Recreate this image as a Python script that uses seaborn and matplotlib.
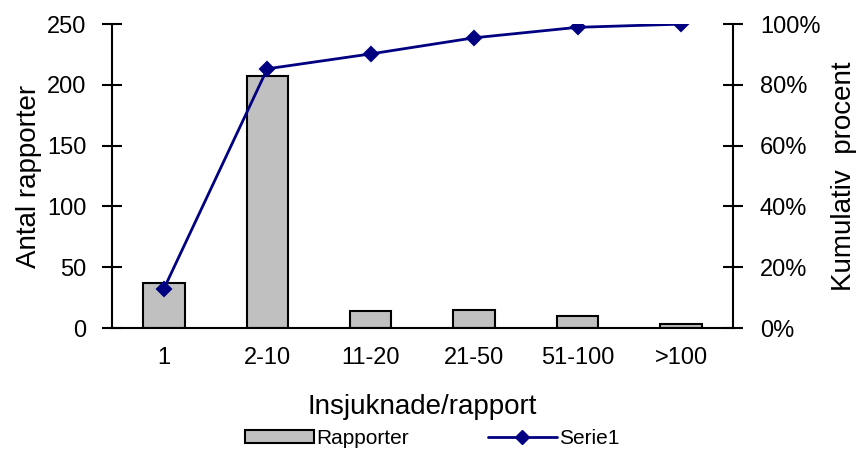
import matplotlib
matplotlib.use("Agg")
import matplotlib.pyplot as plt
import seaborn as sns
import numpy as np
import pandas as pd
from matplotlib.patches import Patch
from matplotlib.lines import Line2D
from matplotlib.ticker import FuncFormatter

categories = ["1", "2-10", "11-20", "21-50", "51-100", ">100"]
rapporter = [37, 207, 14, 15, 10, 3]
kumulativ = [12.9, 85.3, 90.2, 95.5, 98.95, 100.0]

sns.set_style("white")
plt.rcParams["font.family"] = ["Liberation Sans", "DejaVu Sans"]
plt.rcParams["text.color"] = "black"
plt.rcParams["axes.labelcolor"] = "black"
plt.rcParams["xtick.color"] = "black"
plt.rcParams["ytick.color"] = "black"

fig = plt.figure(figsize=(8.56, 4.55), dpi=100)
ax = fig.add_axes([0.131, 0.279, 0.725, 0.668])

df = pd.DataFrame({"cat": categories, "val": rapporter, "cum": kumulativ})
sns.barplot(data=df, x="cat", y="val", ax=ax, color="#C0C0C0", width=0.4,
            edgecolor="black", linewidth=1.5, saturation=1)

ax.set_xlim(-0.5, len(categories) - 0.5)
ax.set_ylim(0, 250)
ax.set_yticks([0, 50, 100, 150, 200, 250])
ax.set_xticks(np.arange(len(categories)))
ax.set_xticklabels(categories)
ax.set_xticks(np.arange(-0.5, len(categories)), minor=True)
ax.tick_params(axis="x", which="major", length=0, labelsize=17, pad=14)
ax.tick_params(axis="x", which="minor", length=14, width=1.5, direction="inout")
ax.tick_params(axis="y", length=15, width=1.5, direction="inout", labelsize=17, pad=11)
ax.set_xlabel("Insjuknade/rapport", fontsize=20, labelpad=18)
ax.set_ylabel("Antal rapporter", fontsize=20, labelpad=4)
for s in ["left", "bottom"]:
    ax.spines[s].set_color("black")
    ax.spines[s].set_linewidth(1.5)
ax.spines["top"].set_visible(False)
ax.spines["right"].set_visible(False)

ax2 = ax.twinx()
sns.pointplot(data=df, x="cat", y="cum", ax=ax2, color="#000080", markers="D",
              linestyles="-", markersize=7, linewidth=2)
ax2.set_xlim(-0.5, len(categories) - 0.5)
ax2.set_ylim(0, 100)
ax2.set_yticks([0, 20, 40, 60, 80, 100])
ax2.yaxis.set_major_formatter(FuncFormatter(lambda v, p: f"{int(v)}%"))
ax2.tick_params(axis="y", length=15, width=1.5, direction="inout", labelsize=17, pad=12)
ax2.set_ylabel("Kumulativ  procent", fontsize=20, labelpad=8)
ax2.spines["top"].set_visible(False)
ax2.spines["left"].set_visible(False)
ax2.spines["bottom"].set_visible(False)
ax2.spines["right"].set_color("black")
ax2.spines["right"].set_linewidth(1.5)

handles = [Patch(facecolor="#C0C0C0", edgecolor="black", linewidth=1.5, label="Rapporter"),
           Line2D([0], [0], color="#000080", marker="D", markersize=7, linewidth=2, label="Serie1")]
fig.legend(handles=handles, loc="lower center", bbox_to_anchor=(0.505, -0.025), ncol=2,
           frameon=False, fontsize=15, handlelength=3.3, handleheight=0.55,
           columnspacing=3.8, handletextpad=0.1)

fig.savefig("out.png", dpi=100)
